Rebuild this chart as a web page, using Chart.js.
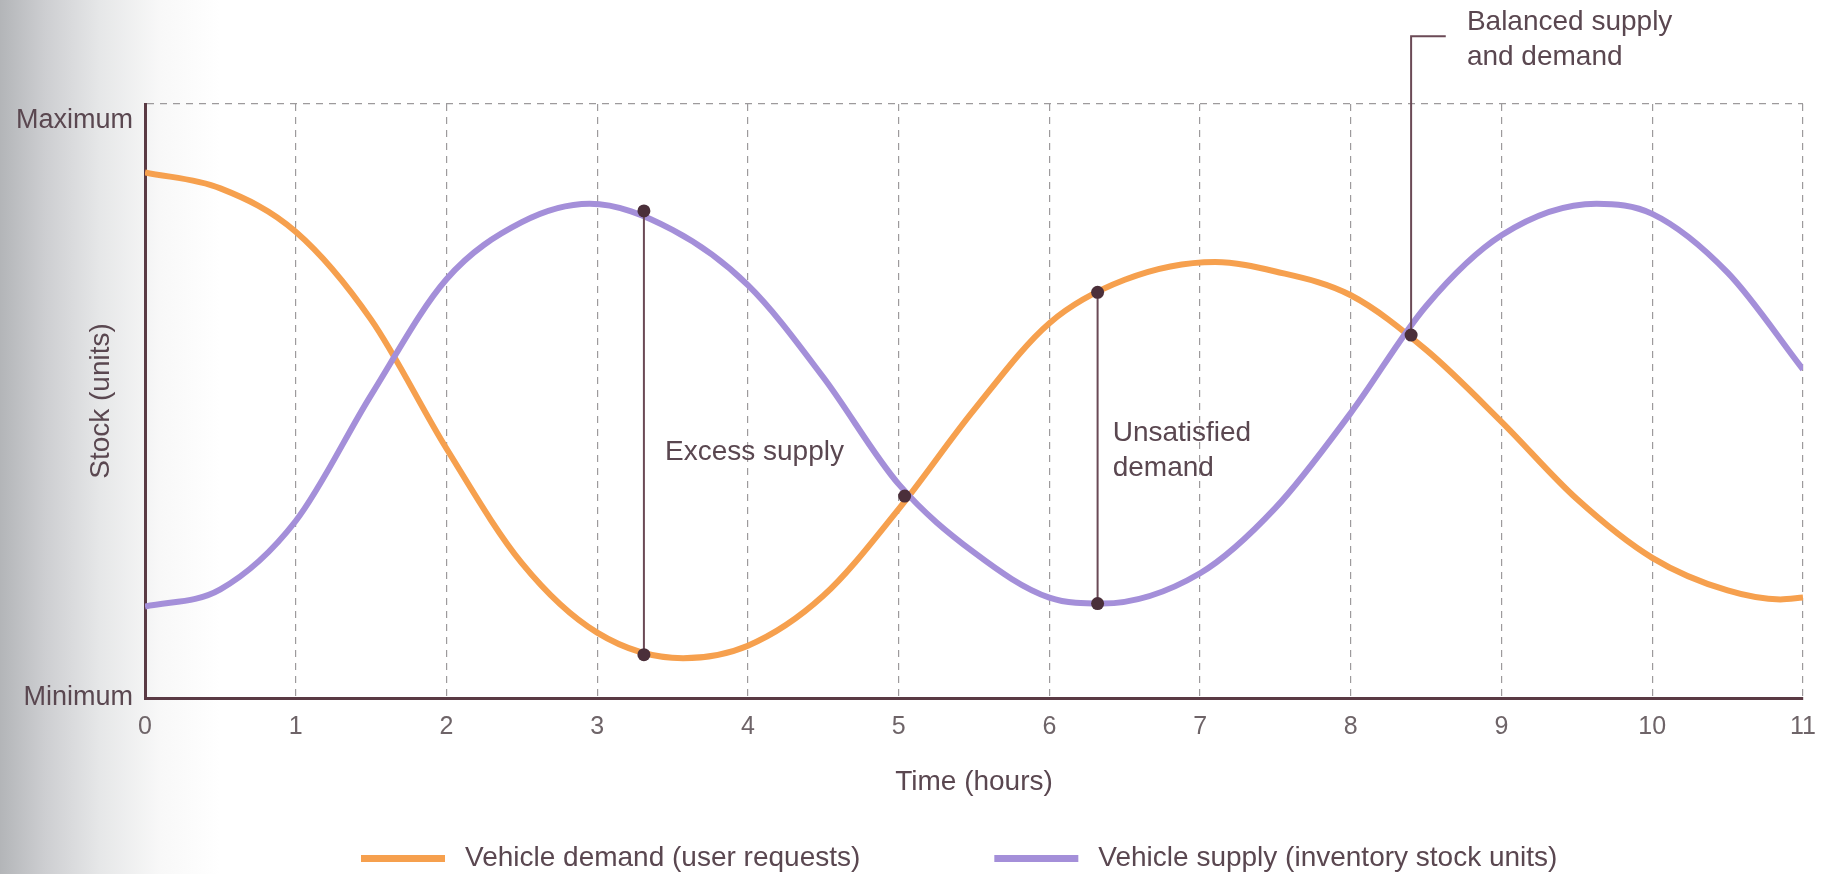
<!DOCTYPE html>
<html>
<head>
<meta charset="utf-8">
<script src="https://cdn.jsdelivr.net/npm/chart.js@4.4.1/dist/chart.umd.min.js"></script>
<style>
html, body { margin: 0; padding: 0; }
body {
    width: 1830px; height: 874px; overflow: hidden;
    background: linear-gradient(to right, #b3b5b8 0px, #cdced1 45px, #e6e7e8 100px, #f8f8f8 160px, #ffffff 220px);
}
#wrap { position: relative; width: 1830px; height: 874px; }
</style>
</head>
<body>
<div id="wrap"><canvas id="chart" width="1830" height="874"></canvas></div>
<script>
// stock level, 0 = Minimum, 100 = Maximum; each series read at its own hours
var demandHours = [0, 0.5, 1, 1.5, 2, 2.5, 3, 3.57, 4, 4.5, 5, 5.5, 6, 6.5, 7.1, 7.5, 8, 8.5, 9, 9.5, 10, 10.5, 10.85, 11];
var demand = [88.5, 85.8, 78.5, 63.7, 42.0, 22.7, 11.0, 6.7, 8.8, 17.2, 31.8, 48.5, 63.1, 70.4, 73.4, 71.8, 67.8, 58.6, 46.5, 33.5, 23.6, 18.1, 16.6, 16.9];

var supplyHours = [0, 0.5, 1, 1.5, 2, 2.5, 2.95, 3.5, 4, 4.5, 5, 5.5, 6, 6.35, 7, 7.5, 8, 8.5, 9, 9.63, 10, 10.5, 11];
var supply = [15.4, 18.3, 29.8, 51.0, 70.5, 80.1, 83.2, 78.8, 69.5, 54.0, 36.0, 24.5, 16.9, 15.9, 21.0, 32.0, 48.0, 66.0, 77.9, 83.2, 81.5, 71.6, 55.3];

var yTickLabels = {0: 'Minimum', 100: 'Maximum'};

// highlighted points
var markerHours = [3.31, 3.31, 5.04, 6.32, 6.32, 8.40];
var markerValues = [82.0, 7.3, 34.0, 68.3, 15.9, 61.1];

// text notes (hour, level)
var notes = [
    {text: ['Excess supply'], x: 3.45, y: 41.4},
    {text: ['Unsatisfied', 'demand'], x: 6.42, y: 44.6},
    {text: ['Balanced supply', 'and demand'], x: 8.77, y: 113.8}
];

var FONT = "'Liberation Sans', Arial, sans-serif";
var TEXT = '#5a4750';
var ORANGE = '#f6a04e';
var PURPLE = '#a48fd9';
var DARK = '#4b2f3a';

var toPoints = function (xs, ys) {
    return xs.map(function (x, i) { return {x: x, y: ys[i]}; });
};

var notesPlugin = {
    id: 'notes',
    afterDatasetsDraw: function (chart) {
        var ctx = chart.ctx;
        var xs = chart.scales.x, ys = chart.scales.y;
        ctx.save();
        ctx.fillStyle = TEXT;
        ctx.font = '28px ' + FONT;
        ctx.textAlign = 'left';
        ctx.textBaseline = 'middle';
        notes.forEach(function (n) {
            var px = xs.getPixelForValue(n.x);
            var py = ys.getPixelForValue(n.y);
            n.text.forEach(function (t, i) {
                ctx.fillText(t, px, py + i * 35);
            });
        });
        ctx.restore();
    },
    afterDraw: function (chart) {
        // legend along the bottom
        var ctx = chart.ctx;
        var x = 361, y = 858;
        ctx.save();
        ctx.font = '28px ' + FONT;
        ctx.textBaseline = 'middle';
        ctx.textAlign = 'left';
        chart.data.datasets.slice(0, 2).forEach(function (ds) {
            ctx.fillStyle = ds.borderColor;
            ctx.fillRect(x, y - 3, 84, 7);
            ctx.fillStyle = TEXT;
            ctx.fillText(ds.label, x + 104, y);
            x += 104 + ctx.measureText(ds.label).width + 134;
        });
        ctx.restore();
    }
};

const ctx = document.getElementById('chart');
var chart = new Chart(ctx, {
    type: 'line',
    data: {
        datasets: [
            {
                label: 'Vehicle demand (user requests)',
                data: toPoints(demandHours, demand),
                borderColor: ORANGE,
                borderWidth: 6,
                tension: 0.4,
                cubicInterpolationMode: 'monotone',
                pointRadius: 0,
                order: 3
            },
            {
                label: 'Vehicle supply (inventory stock units)',
                data: toPoints(supplyHours, supply),
                borderColor: PURPLE,
                borderWidth: 6,
                tension: 0.4,
                cubicInterpolationMode: 'monotone',
                pointRadius: 0,
                order: 2
            },
            {
                label: 'excess',
                data: [{x: markerHours[0], y: markerValues[0]}, {x: markerHours[1], y: markerValues[1]}],
                borderColor: '#6b4a56',
                borderWidth: 2,
                pointRadius: 0,
                order: 1
            },
            {
                label: 'unsatisfied',
                data: [{x: markerHours[3], y: markerValues[3]}, {x: markerHours[4], y: markerValues[4]}],
                borderColor: '#6b4a56',
                borderWidth: 2,
                pointRadius: 0,
                order: 1
            },
            {
                label: 'balanced',
                data: [{x: 8.40, y: 61.1}, {x: 8.40, y: 111.4}, {x: 8.63, y: 111.4}],
                borderColor: '#6b4a56',
                borderWidth: 2,
                pointRadius: 0,
                clip: false,
                order: 1
            },
            {
                label: 'markers',
                data: toPoints(markerHours, markerValues),
                showLine: false,
                pointRadius: 6.5,
                pointBackgroundColor: DARK,
                pointBorderWidth: 0,
                order: 0
            }
        ]
    },
    options: {
        responsive: false,
        animation: false,
        layout: { padding: { top: 104, right: 27, left: 0, bottom: 0 } },
        plugins: {
            legend: { display: false },
            tooltip: { enabled: false }
        },
        scales: {
            x: {
                type: 'linear',
                min: 0,
                max: 11,
                afterFit: function (s) { s.height = 176; },
                ticks: {
                    stepSize: 1,
                    padding: 14,
                    color: '#6e6468',
                    font: { family: FONT, size: 25 }
                },
                grid: {
                    drawTicks: false,
                    color: function (c) { return c.tick && c.tick.value === 0 ? 'rgba(0,0,0,0)' : '#9d9a9c'; },
                    lineWidth: 1.2
                },
                border: { display: true, color: '#5a3a44', width: 3, dash: [7, 6] },
                title: {
                    display: true,
                    text: 'Time (hours)',
                    color: TEXT,
                    font: { family: FONT, size: 28 },
                    padding: { top: 0, bottom: 75 }
                }
            },
            y: {
                min: 0,
                max: 100,
                afterFit: function (s) { s.width = 145; },
                afterBuildTicks: function (s) { s.ticks = [{value: 0}, {value: 100}]; },
                ticks: {
                    padding: 12,
                    color: TEXT,
                    font: { family: FONT, size: 27 },
                    callback: function (v) { return v === 100 ? ['', yTickLabels[v]] : yTickLabels[v]; }
                },
                grid: {
                    drawTicks: false,
                    color: function (c) { return c.tick && c.tick.value === 100 ? '#9d9a9c' : 'rgba(0,0,0,0)'; },
                    lineWidth: 1.2
                },
                border: { display: true, color: '#5a3a44', width: 3, dash: [7, 6] },
                title: {
                    display: true,
                    text: 'Stock (units)',
                    color: TEXT,
                    font: { family: FONT, size: 28 },
                    padding: { top: 84, bottom: 0 }
                }
            }
        }
    },
    plugins: [notesPlugin]
});
</script>
</body>
</html>
